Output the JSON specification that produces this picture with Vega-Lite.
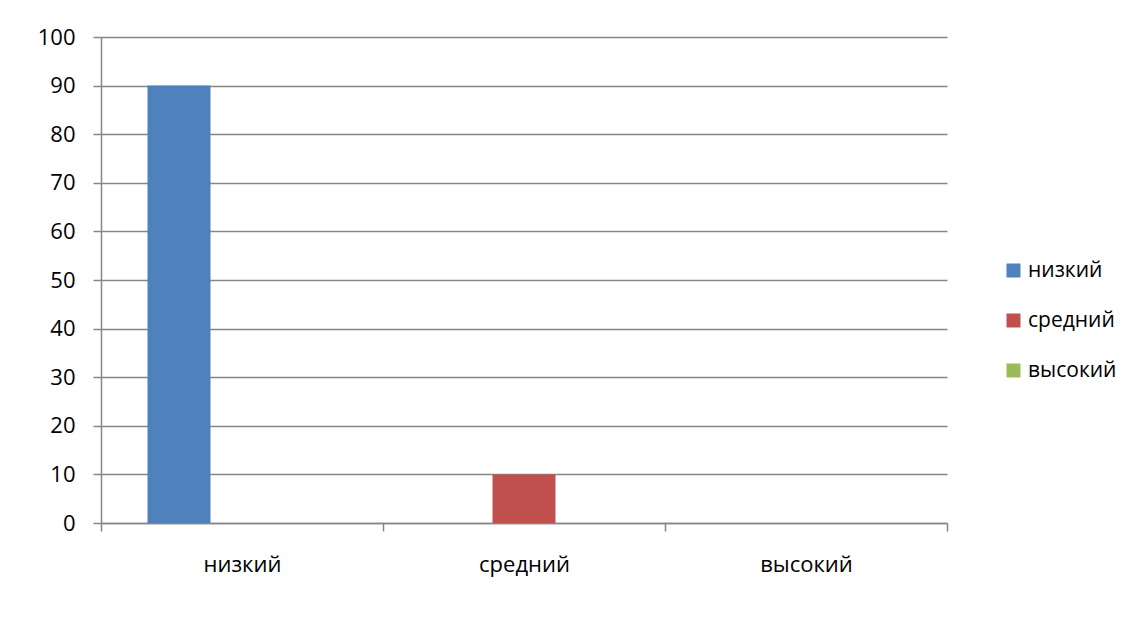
{
  "$schema": "https://vega.github.io/schema/vega-lite/v6.json",
  "width": 846,
  "height": 486,
  "autosize": {"type": "none"},
  "padding": {"left": 101, "top": 37, "right": 193, "bottom": 100},
  "background": "white",
  "config": {
    "font": "Open Sans",
    "view": {"stroke": null},
    "axis": {
      "labelFont": "Open Sans",
      "labelFontSize": 22,
      "labelColor": "#000000",
      "domainColor": "#868686",
      "domainWidth": 1.5,
      "tickColor": "#868686",
      "tickWidth": 1.5,
      "tickSize": 8,
      "gridColor": "#868686",
      "gridWidth": 1.5,
      "title": null
    },
    "legend": {
      "labelFont": "Open Sans",
      "labelFontSize": 21,
      "labelColor": "#000000"
    }
  },
  "data": {
    "values": [
      {"category": "низкий", "series": "низкий", "value": 90},
      {"category": "низкий", "series": "средний", "value": 0},
      {"category": "низкий", "series": "высокий", "value": 0},
      {"category": "средний", "series": "низкий", "value": 0},
      {"category": "средний", "series": "средний", "value": 10},
      {"category": "средний", "series": "высокий", "value": 0},
      {"category": "высокий", "series": "низкий", "value": 0},
      {"category": "высокий", "series": "средний", "value": 0},
      {"category": "высокий", "series": "высокий", "value": 0}
    ]
  },
  "mark": {"type": "bar"},
  "encoding": {
    "x": {
      "field": "category",
      "type": "nominal",
      "sort": ["низкий", "средний", "высокий"],
      "scale": {"paddingInner": 0, "paddingOuter": 0},
      "axis": {
        "labelAngle": 0,
        "labelPadding": 23,
        "tickBand": "extent",
        "grid": false
      }
    },
    "xOffset": {
      "field": "series",
      "type": "nominal",
      "sort": ["низкий", "средний", "высокий"],
      "scale": {"paddingInner": 0, "paddingOuter": 0.738}
    },
    "y": {
      "field": "value",
      "type": "quantitative",
      "scale": {"domain": [0, 100], "nice": false},
      "axis": {
        "values": [0, 10, 20, 30, 40, 50, 60, 70, 80, 90, 100],
        "labelPadding": 18,
        "grid": true
      }
    },
    "color": {
      "field": "series",
      "type": "nominal",
      "sort": ["низкий", "средний", "высокий"],
      "scale": {
        "domain": ["низкий", "средний", "высокий"],
        "range": ["#4F81BD", "#C0504D", "#9BBB59"]
      },
      "legend": {
        "title": null,
        "orient": "none",
        "legendX": 902,
        "legendY": 223,
        "symbolType": "square",
        "symbolSize": 196,
        "symbolStrokeWidth": 0,
        "labelOffset": 4,
        "rowPadding": 28
      }
    }
  }
}
